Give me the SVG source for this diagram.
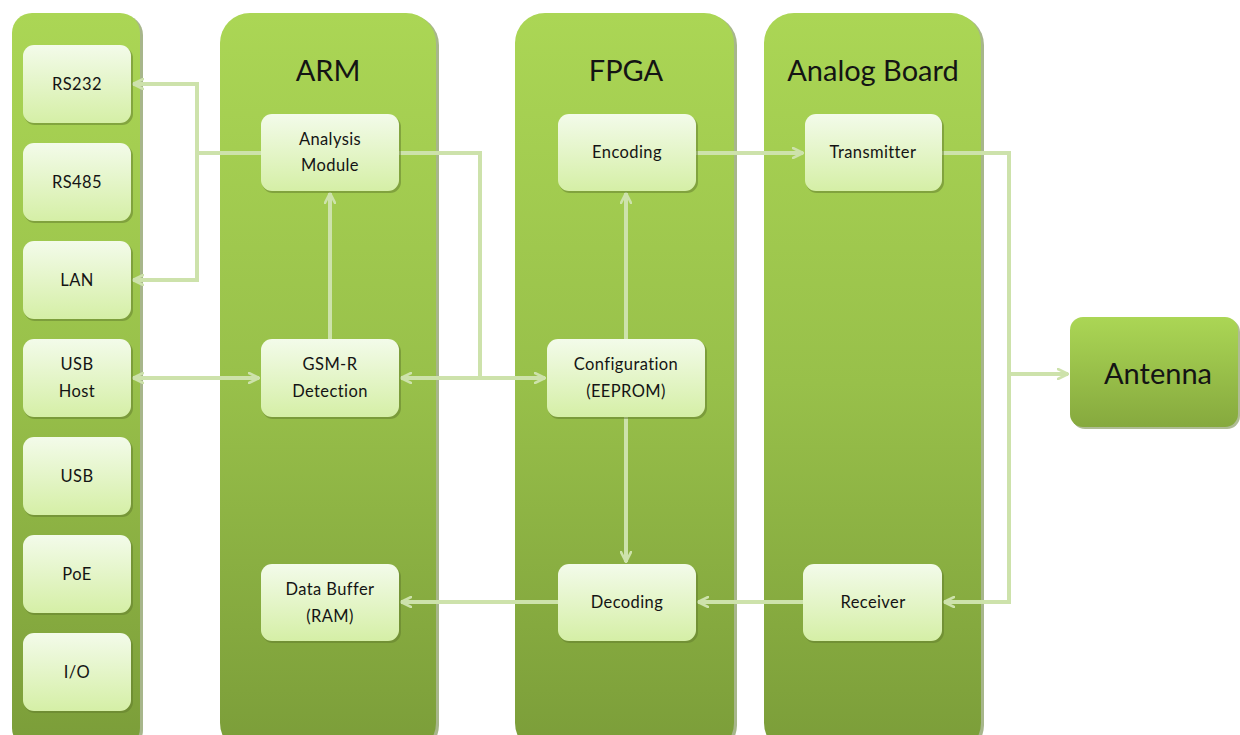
<svg xmlns="http://www.w3.org/2000/svg" width="1240" height="735" viewBox="0 0 1240 735">
<defs>
<linearGradient id="pg" x1="0" y1="0" x2="0" y2="1">
<stop offset="0" stop-color="#abd655"/>
<stop offset="0.5" stop-color="#98c04a"/>
<stop offset="1" stop-color="#7b9d39"/>
</linearGradient>
<linearGradient id="bg" x1="0" y1="0" x2="0" y2="1">
<stop offset="0" stop-color="#f3fbea"/>
<stop offset="1" stop-color="#d5efa6"/>
</linearGradient>
<linearGradient id="ag" x1="0" y1="0" x2="0" y2="1">
<stop offset="0" stop-color="#abd655"/>
<stop offset="1" stop-color="#86a93e"/>
</linearGradient>
<marker id="ah" viewBox="0 0 12 12" refX="11" refY="6" markerWidth="12" markerHeight="12" markerUnits="userSpaceOnUse" orient="auto-start-reverse">
<path d="M1,1 L11,6 L1,11" fill="none" stroke="#cde2ab" stroke-width="2.6" stroke-linecap="round" stroke-linejoin="round"/>
</marker>
</defs>
<style>
.panel{fill:url(#pg);}
.pshadow{fill:#5f7a2c;opacity:0.55;}
.box{fill:url(#bg);}
.bshadow{fill:#5f7a2c;opacity:0.5;}
.t{font-family:Lato,"Open Sans","Liberation Sans",sans-serif;fill:#141414;text-anchor:middle;}
.title{font-size:29px;}
.lbl{font-size:16.5px;letter-spacing:0.4px;}
.conn{fill:none;stroke:#cde2ab;stroke-width:4;}
</style>
<rect width="1240" height="735" fill="#ffffff"/>

<g id="panel-io">
<rect class="pshadow" x="14" y="15" width="129" height="735" rx="20"/>
<rect class="panel" x="12" y="13" width="128" height="735" rx="20"/>
</g>
<g id="panel-arm">
<rect class="pshadow" x="222" y="15" width="217" height="740" rx="30"/>
<rect class="panel" x="220" y="13" width="216" height="740" rx="30"/>
<text class="t title" x="328" y="81">ARM</text>
</g>
<g id="panel-fpga">
<rect class="pshadow" x="517" y="15" width="220" height="740" rx="30"/>
<rect class="panel" x="515" y="13" width="219" height="740" rx="30"/>
<text class="t title" x="626" y="81">FPGA</text>
</g>
<g id="panel-analog">
<rect class="pshadow" x="766" y="15" width="218" height="740" rx="30"/>
<rect class="panel" x="764" y="13" width="217" height="740" rx="30"/>
<text class="t title" x="873" y="81">Analog Board</text>
</g>

<g id="connectors">
<path class="conn" d="M261,153 H197 V84 H133" marker-end="url(#ah)"/>
<path class="conn" d="M197,153 V280 H133" marker-end="url(#ah)"/>
<path class="conn" d="M399,153 H480 V378"/>
<path class="conn" d="M401,378 H545" marker-start="url(#ah)" marker-end="url(#ah)"/>
<path class="conn" d="M133,378 H259" marker-start="url(#ah)" marker-end="url(#ah)"/>
<path class="conn" d="M330,339 V193" marker-end="url(#ah)"/>
<path class="conn" d="M626,339 V193" marker-end="url(#ah)"/>
<path class="conn" d="M626,417 V562" marker-end="url(#ah)"/>
<path class="conn" d="M696,153 H803" marker-end="url(#ah)"/>
<path class="conn" d="M942,153 H1009 V602 H944" marker-end="url(#ah)"/>
<path class="conn" d="M1009,374 H1068" marker-end="url(#ah)"/>
<path class="conn" d="M803,602 H698" marker-end="url(#ah)"/>
<path class="conn" d="M558,602 H401" marker-end="url(#ah)"/>
</g>

<g id="rs232"><rect class="bshadow" x="24" y="47" width="109" height="78" rx="11"/><rect class="box" x="23" y="45" width="108" height="78" rx="11"/><text class="t lbl" x="77" y="90">RS232</text></g>
<g id="rs485"><rect class="bshadow" x="24" y="145" width="109" height="78" rx="11"/><rect class="box" x="23" y="143" width="108" height="78" rx="11"/><text class="t lbl" x="77" y="188">RS485</text></g>
<g id="lan"><rect class="bshadow" x="24" y="243" width="109" height="78" rx="11"/><rect class="box" x="23" y="241" width="108" height="78" rx="11"/><text class="t lbl" x="77" y="286">LAN</text></g>
<g id="usb-host"><rect class="bshadow" x="24" y="341" width="109" height="78" rx="11"/><rect class="box" x="23" y="339" width="108" height="78" rx="11"/><text class="t lbl" x="77" y="370">USB</text><text class="t lbl" x="77" y="397">Host</text></g>
<g id="usb"><rect class="bshadow" x="24" y="439" width="109" height="78" rx="11"/><rect class="box" x="23" y="437" width="108" height="78" rx="11"/><text class="t lbl" x="77" y="482">USB</text></g>
<g id="poe"><rect class="bshadow" x="24" y="537" width="109" height="78" rx="11"/><rect class="box" x="23" y="535" width="108" height="78" rx="11"/><text class="t lbl" x="77" y="580">PoE</text></g>
<g id="io"><rect class="bshadow" x="24" y="635" width="109" height="78" rx="11"/><rect class="box" x="23" y="633" width="108" height="78" rx="11"/><text class="t lbl" x="77" y="678">I/O</text></g>

<g id="analysis-module"><rect class="bshadow" x="262" y="116" width="139" height="77" rx="11"/><rect class="box" x="261" y="114" width="138" height="77" rx="11"/><text class="t lbl" x="330" y="145">Analysis</text><text class="t lbl" x="330" y="171">Module</text></g>
<g id="gsmr-detection"><rect class="bshadow" x="262" y="341" width="139" height="78" rx="11"/><rect class="box" x="261" y="339" width="138" height="78" rx="11"/><text class="t lbl" x="330" y="370">GSM-R</text><text class="t lbl" x="330" y="397">Detection</text></g>
<g id="data-buffer"><rect class="bshadow" x="262" y="566" width="139" height="77" rx="11"/><rect class="box" x="261" y="564" width="138" height="77" rx="11"/><text class="t lbl" x="330" y="595">Data Buffer</text><text class="t lbl" x="330" y="622">(RAM)</text></g>

<g id="encoding"><rect class="bshadow" x="559" y="116" width="139" height="77" rx="11"/><rect class="box" x="558" y="114" width="138" height="77" rx="11"/><text class="t lbl" x="627" y="158">Encoding</text></g>
<g id="configuration"><rect class="bshadow" x="548" y="341" width="159" height="78" rx="11"/><rect class="box" x="547" y="339" width="158" height="78" rx="11"/><text class="t lbl" x="626" y="370">Configuration</text><text class="t lbl" x="626" y="397">(EEPROM)</text></g>
<g id="decoding"><rect class="bshadow" x="559" y="566" width="139" height="77" rx="11"/><rect class="box" x="558" y="564" width="138" height="77" rx="11"/><text class="t lbl" x="627" y="608">Decoding</text></g>

<g id="transmitter"><rect class="bshadow" x="806" y="116" width="138" height="77" rx="11"/><rect class="box" x="805" y="114" width="137" height="77" rx="11"/><text class="t lbl" x="873" y="158">Transmitter</text></g>
<g id="receiver"><rect class="bshadow" x="804" y="566" width="140" height="77" rx="11"/><rect class="box" x="803" y="564" width="139" height="77" rx="11"/><text class="t lbl" x="873" y="608">Receiver</text></g>

<g id="antenna"><rect class="bshadow" x="1072" y="319" width="168" height="110" rx="13"/><rect fill="url(#ag)" x="1070" y="317" width="168" height="110" rx="13"/><text class="t" font-size="29" x="1158" y="384">Antenna</text></g>
</svg>
